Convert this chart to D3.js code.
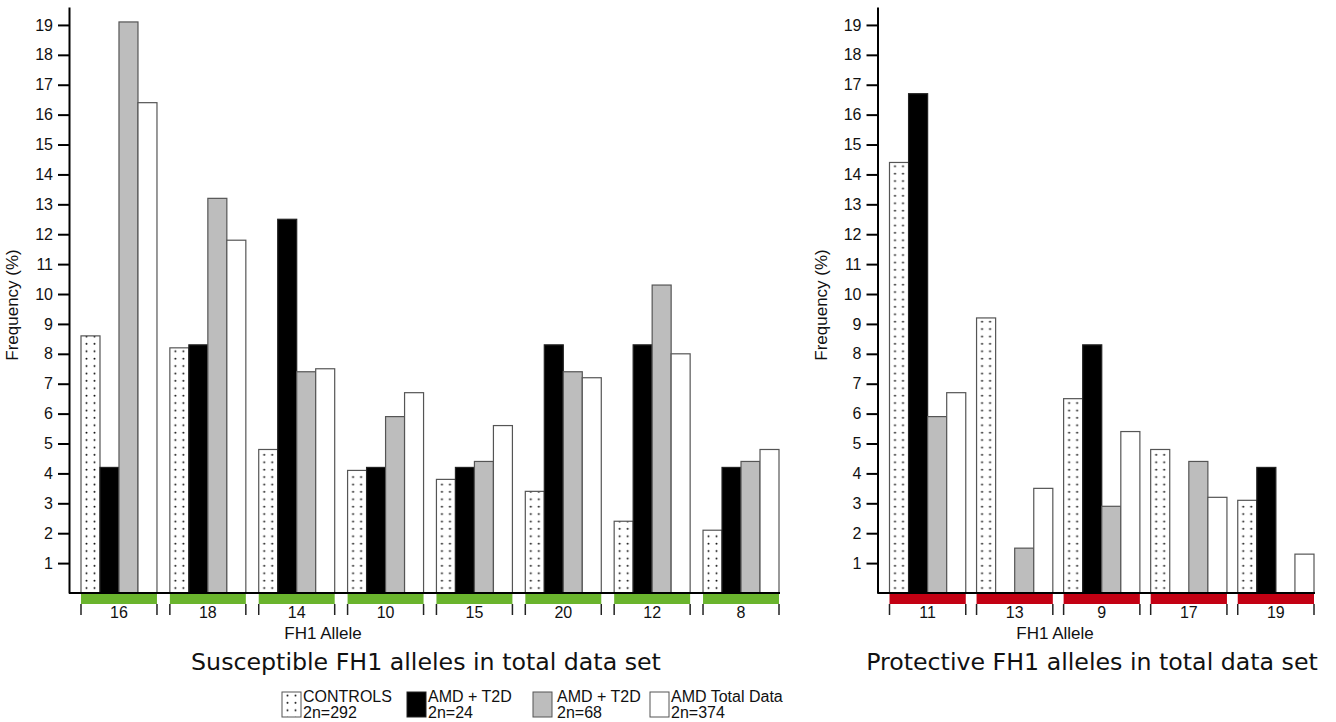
<!DOCTYPE html>
<html>
<head>
<meta charset="utf-8">
<script src="https://cdn.jsdelivr.net/npm/d3@7"></script>
<style>
  body { margin: 0; background: #fff; }
  text { font-family: "Liberation Sans", Arial, sans-serif; fill: #111; }
  .title { font-family: "DejaVu Sans", Verdana, sans-serif; font-size: 23.7px; }
</style>
</head>
<body>
<div id="vis"></div>
<script>
// series (legend order)
const seriesKeys = ['controls', 'amdT2d24', 'amdT2d68', 'amdTotal'];
const seriesLine1 = ['CONTROLS', 'AMD + T2D', 'AMD + T2D', 'AMD Total Data'];
const seriesLine2 = ['2n=292', '2n=24', '2n=68', '2n=374'];

// susceptible alleles
const susAlleles = ['16', '18', '14', '10', '15', '20', '12', '8'];
const susControls = [8.6, 8.2, 4.8, 4.1, 3.8, 3.4, 2.4, 2.1];
const susT2d24 = [4.2, 8.3, 12.5, 4.2, 4.2, 8.3, 8.3, 4.2];
const susT2d68 = [19.1, 13.2, 7.4, 5.9, 4.4, 7.4, 10.3, 4.4];
const susTotal = [16.4, 11.8, 7.5, 6.7, 5.6, 7.2, 8.0, 4.8];

// protective alleles
const proAlleles = ['11', '13', '9', '17', '19'];
const proControls = [14.4, 9.2, 6.5, 4.8, 3.1];
const proT2d24 = [16.7, 0, 8.3, 0, 4.2];
const proT2d68 = [5.9, 1.5, 2.9, 4.4, 0];
const proTotal = [6.7, 3.5, 5.4, 3.2, 1.3];

const yTicks = d3.range(1, 20);

const W = 1336, H = 722;
const svg = d3.select('#vis').append('svg')
    .attr('width', W)
    .attr('height', H);

// dotted fill for the controls bars
svg.append('defs').append('pattern')
    .attr('id', 'dots')
    .attr('patternUnits', 'userSpaceOnUse')
    .attr('width', 8)
    .attr('height', 7.4)
    .call(p => {
        p.append('rect').attr('width', 8).attr('height', 7.4).attr('fill', '#fff');
        p.append('circle').attr('cx', 5.5).attr('cy', 3.5).attr('r', 1).attr('fill', '#111');
    });

const fills = {controls: 'url(#dots)', amdT2d24: '#000', amdT2d68: '#bdbdbd', amdTotal: '#fff'};
const strokes = {controls: '#555', amdT2d24: '#222', amdT2d68: '#555', amdTotal: '#555'};

const y = d3.scaleLinear().domain([0, 19.6]).range([593, 7]);

function drawPanel(cfg) {
    const table = cfg.alleles.map((a, i) => ({
        allele: a,
        values: seriesKeys.map((k, j) => ({key: k, value: cfg.values[j][i]}))
    }));

    const x0 = d3.scaleBand()
        .domain(cfg.alleles)
        .range(cfg.range)
        .paddingInner(cfg.pad)
        .paddingOuter(0);

    const x1 = d3.scaleBand()
        .domain(seriesKeys)
        .range([0, x0.bandwidth()]);

    const g = svg.append('g');

    // bars
    const groups = g.selectAll('.grp')
        .data(table)
        .enter().append('g')
        .attr('class', 'grp')
        .attr('transform', d => `translate(${x0(d.allele)},0)`);

    groups.selectAll('rect')
        .data(d => d.values.filter(v => v.value > 0))
        .enter().append('rect')
        .attr('transform', d => `translate(${x1(d.key)},0)`)
        .attr('x', 0)
        .attr('y', d => y(d.value))
        .attr('width', x1.bandwidth())
        .attr('height', d => y(0) - y(d.value))
        .attr('fill', d => fills[d.key])
        .attr('stroke', d => strokes[d.key])
        .attr('stroke-width', 1.2);

    // baseline
    g.append('line')
        .attr('x1', cfg.axisX).attr('x2', cfg.range[1] + 1)
        .attr('y1', y(0)).attr('y2', y(0))
        .attr('stroke', '#000').attr('stroke-width', 2);

    // coloured allele strips
    g.selectAll('.strip')
        .data(cfg.alleles)
        .enter().append('rect')
        .attr('class', 'strip')
        .attr('x', d => x0(d))
        .attr('y', 594)
        .attr('width', x0.bandwidth())
        .attr('height', 10)
        .attr('fill', cfg.stripColor);

    // category brackets
    cfg.alleles.forEach(a => {
        [x0(a), x0(a) + x0.bandwidth()].forEach(xx => {
            g.append('line')
                .attr('x1', xx).attr('x2', xx)
                .attr('y1', 604).attr('y2', 615)
                .attr('stroke', '#222').attr('stroke-width', 1.5);
        });
    });

    g.selectAll('.catlab')
        .data(cfg.alleles)
        .enter().append('text')
        .attr('class', 'catlab')
        .attr('x', d => x0(d) + x0.bandwidth() / 2)
        .attr('y', 618)
        .attr('text-anchor', 'middle')
        .style('font-size', '16px')
        .text(d => d);

    // y axis
    const yAxis = d3.axisLeft(y)
        .tickValues(yTicks)
        .tickSize(11)
        .tickSizeOuter(0)
        .tickPadding(5);

    const ax = g.append('g')
        .attr('transform', `translate(${cfg.axisX},0)`)
        .call(yAxis);
    ax.select('.domain').attr('stroke', '#000').attr('stroke-width', 2);
    ax.selectAll('.tick line').attr('stroke', '#000').attr('stroke-width', 2);
    ax.selectAll('.tick text')
        .style('font-size', '16px')
        .style('font-family', '"Liberation Sans", Arial, sans-serif')
        .attr('fill', '#111');

    g.append('text')
        .attr('transform', `translate(${cfg.axisX - 51},305) rotate(-90)`)
        .attr('text-anchor', 'middle')
        .style('font-size', '17px')
        .text('Frequency (%)');

    g.append('text')
        .attr('x', cfg.xLabelX)
        .attr('y', 639)
        .attr('text-anchor', 'middle')
        .style('font-size', '17px')
        .text('FH1 Allele');

    g.append('text')
        .attr('class', 'title')
        .attr('x', cfg.titleX)
        .attr('y', 670)
        .attr('text-anchor', 'middle')
        .text(cfg.title);
}

drawPanel({
    alleles: susAlleles,
    values: [susControls, susT2d24, susT2d68, susTotal],
    range: [81, 779],
    pad: 0.145,
    axisX: 69,
    stripColor: '#6ab42d',
    xLabelX: 323,
    titleX: 426,
    title: 'Susceptible FH1 alleles in total data set'
});

drawPanel({
    alleles: proAlleles,
    values: [proControls, proT2d24, proT2d68, proTotal],
    range: [889.5, 1314],
    pad: 0.124,
    axisX: 877.5,
    stripColor: '#c30013',
    xLabelX: 1055,
    titleX: 1092,
    title: 'Protective FH1 alleles in total data set'
});

// legend
const legendX = [282, 407, 533, 650];
const legend = svg.append('g');
const items = legend.selectAll('.item')
    .data(seriesKeys)
    .enter().append('g')
    .attr('class', 'item')
    .attr('transform', (d, i) => `translate(${legendX[i]},692)`);

items.append('rect')
    .attr('width', 19)
    .attr('height', 25)
    .attr('fill', d => fills[d])
    .attr('stroke', d => strokes[d])
    .attr('stroke-width', 1);

items.append('text')
    .attr('x', (d, i) => i === 2 ? 24 : 21)
    .attr('y', 10)
    .style('font-size', '16px')
    .text((d, i) => seriesLine1[i]);

items.append('text')
    .attr('x', (d, i) => i === 2 ? 24 : 21)
    .attr('y', 26)
    .style('font-size', '16px')
    .text((d, i) => seriesLine2[i]);
</script>
</body>
</html>
